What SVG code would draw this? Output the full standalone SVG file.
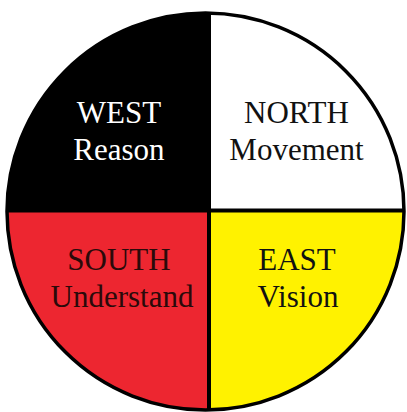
<svg xmlns="http://www.w3.org/2000/svg" width="407" height="412" viewBox="0 0 407 412">
  <defs>
    <clipPath id="wheel">
      <circle cx="205.5" cy="211.5" r="198.5"/>
    </clipPath>
    <style>
      .lbl { font-family: "Liberation Serif", "Times New Roman", serif; font-size: 31px; text-anchor: middle; }
      .divider { stroke: #000; stroke-width: 4; }
    </style>
  </defs>
  <rect width="407" height="412" fill="#fff"/>
  <g clip-path="url(#wheel)">
    <g id="west">
      <rect x="0" y="0" width="209" height="210.5" fill="#000"/>
    </g>
    <g id="north">
      <rect x="209" y="0" width="198" height="210.5" fill="#fff"/>
    </g>
    <g id="south">
      <rect x="0" y="210.5" width="209" height="202" fill="#ED2630"/>
    </g>
    <g id="east">
      <rect x="209" y="210.5" width="198" height="202" fill="#FFF200"/>
    </g>
  </g>
  <g id="connectors">
    <g clip-path="url(#wheel)">
      <line class="divider" x1="209" y1="0" x2="209" y2="412"/>
      <line class="divider" x1="0" y1="210.5" x2="407" y2="210.5"/>
    </g>
    <circle cx="205.5" cy="211.5" r="198.5" fill="none" stroke="#000" stroke-width="3.5"/>
  </g>
  <g id="west-label">
    <text class="lbl" x="119" y="123" fill="#fff">WEST</text>
    <text class="lbl" x="119" y="160" fill="#fff">Reason</text>
  </g>
  <g id="north-label">
    <text class="lbl" x="296.5" y="123" fill="#111">NORTH</text>
    <text class="lbl" x="296.5" y="160" fill="#111">Movement</text>
  </g>
  <g id="south-label">
    <text class="lbl" x="119" y="270" fill="#2a0a0a">SOUTH</text>
    <text class="lbl" x="122" y="307" fill="#2a0a0a">Understand</text>
  </g>
  <g id="east-label">
    <text class="lbl" x="297" y="270" fill="#111">EAST</text>
    <text class="lbl" x="298" y="307" fill="#111">Vision</text>
  </g>
</svg>
